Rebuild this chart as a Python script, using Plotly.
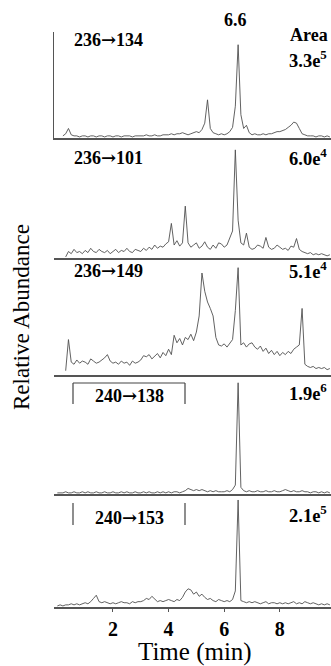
import plotly.graph_objects as go

# ---------------- data ----------------
time_min = [
    0.0, 0.1, 0.2, 0.3, 0.4, 0.5, 0.6, 0.7, 0.8, 0.9,
    1.0, 1.1, 1.2, 1.3, 1.4, 1.5, 1.6, 1.7, 1.8, 1.9,
    2.0, 2.1, 2.2, 2.3, 2.4, 2.5, 2.6, 2.7, 2.8, 2.9,
    3.0, 3.1, 3.2, 3.3, 3.4, 3.5, 3.6, 3.7, 3.8, 3.9,
    4.0, 4.1, 4.2, 4.3, 4.4, 4.5, 4.6, 4.7, 4.8, 4.9,
    5.0, 5.1, 5.2, 5.3, 5.4, 5.5, 5.6, 5.7, 5.8, 5.9,
    6.0, 6.1, 6.2, 6.3, 6.4, 6.5, 6.6, 6.7, 6.8, 6.9,
    7.0, 7.1, 7.2, 7.3, 7.4, 7.5, 7.6, 7.7, 7.8, 7.9,
    8.0, 8.1, 8.2, 8.3, 8.4, 8.5, 8.6, 8.7, 8.8, 8.9,
    9.0, 9.1, 9.2, 9.3, 9.4, 9.5, 9.6, 9.7, 9.8,
]

abund_236_134 = [
    None, None, 2, 4, 9, 3, 2, 2, 1, 2,
    2, 1, 2, 2, 1, 2, 2, 1, 2, 2,
    1, 2, 2, 1, 2, 2, 2, 1, 2, 2,
    2, 2, 3, 2, 2, 3, 2, 2, 3, 3,
    3, 4, 3, 4, 4, 5, 4, 3, 4, 5,
    6, 5, 8, 14, 36, 9, 5, 4, 3, 4,
    3, 4, 6, 10, 30, 88, 22, 9, 12, 5,
    3, 4, 3, 3, 4, 3, 4, 4, 5, 6,
    6, 7, 8, 10, 12, 15, 14, 9, 4, 3,
    2, 2, 2, 1, 2, 2, 1, 2, 1,
]

abund_236_101 = [
    None, None, None, 1, 6, 4, 8, 5, 6, 4,
    7, 5, 9, 6, 5, 8, 6, 5, 7, 4,
    6, 8, 5, 7, 6, 9, 6, 5, 8, 7,
    6, 9, 7, 10, 8, 12, 9, 11, 10, 13,
    15, 32, 12, 16, 11, 14, 48, 14, 10, 12,
    14, 9, 11, 15, 10, 8, 12, 9, 14, 13,
    10, 12, 18, 25, 100, 35, 14, 12, 23, 10,
    8, 9, 12, 11, 9, 19, 10, 8, 9, 12,
    10, 8, 9, 7, 11, 10, 18, 8, 6, 5,
    4, 5, 3, 4, 3, 4, 3, 2, 3,
]

abund_236_149 = [
    None, None, None, 4, 33, 12, 10, 14, 11, 13,
    12, 10, 15, 13, 11, 12, 14, 16, 19, 13,
    11, 12, 10, 13, 11, 12, 9, 13, 11, 12,
    14, 18, 17, 19, 15, 18, 20, 16, 21, 18,
    24, 19, 37, 30, 34, 28, 35, 33, 38, 32,
    40, 55, 95, 78, 68, 62, 55, 35, 28, 27,
    29, 26, 30, 33, 60, 100, 28, 30, 26, 29,
    30, 26, 24, 27, 22, 25, 20, 23, 19, 22,
    18, 21, 19, 22, 20, 24, 26, 28, 62, 10,
    8, 7, 8, 6, 7, 6, 7, 5, 6,
]

abund_240_138 = [
    1, 1, 1, 2, 1, 1, 2, 1, 1, 2,
    1, 2, 1, 1, 2, 1, 1, 2, 1, 1,
    2, 1, 1, 2, 1, 2, 1, 1, 2, 1,
    1, 2, 1, 2, 1, 1, 2, 1, 2, 1,
    2, 1, 2, 2, 1, 2, 3, 5, 4, 3,
    4, 3, 4, 3, 2, 3, 2, 3, 2, 2,
    2, 3, 2, 4, 8, 100, 6, 3, 2, 3,
    2, 2, 3, 2, 2, 3, 2, 2, 3, 2,
    2, 3, 4, 3, 2, 3, 2, 2, 3, 2,
    2, 1, 2, 2, 1, 2, 1, 2, 1,
]

abund_240_153 = [
    1, 2, 1, 2, 2, 3, 2, 3, 2, 3,
    4, 3, 5, 8, 11, 5, 4, 5, 4, 3,
    4, 3, 4, 5, 4, 4, 3, 5, 4, 5,
    5, 6, 8, 7, 10, 7, 5, 6, 5, 6,
    7, 6, 5, 7, 6, 9, 14, 17, 16, 12,
    14, 10, 12, 9, 7, 8, 6, 5, 7, 6,
    5, 6, 5, 7, 15, 100, 6, 5, 4, 5,
    4, 5, 4, 3, 4, 5, 3, 4, 4, 3,
    4, 3, 4, 3, 4, 5, 3, 4, 3, 5,
    4, 3, 4, 3, 2, 3, 2, 3, 2,
]

transition_parent = ["236", "236", "236", "240", "240"]
transition_product = ["134", "101", "149", "138", "153"]
areas = ["3.3e<sup>5</sup>", "6.0e<sup>4</sup>", "5.1e<sup>4</sup>", "1.9e<sup>6</sup>", "2.1e<sup>5</sup>"]
series = [abund_236_134, abund_236_101, abund_236_149, abund_240_138, abund_240_153]
tick_vals = [2, 4, 6, 8]
tick_text = ["2", "4", "6", "8"]
peak_label = "6.6"

# ---------------- layout geometry (pixels) ----------------
W, H = 331, 666
ML, MR, MT, MB = 54, 0, 0, 59
PW, PH = W - ML - MR, H - MT - MB

def xp(px):
    return (px - ML) / PW

def yp(py):
    return (MT + PH - py) / PH

panel_px = [(32, 138), (138, 258), (258, 375), (375, 494), (494, 607)]
y_tops = [100, 111, 109, 107, 105.6]
label_y = [40, 157, 270, 396, 517]
area_y = [59, 157, 270, 392, 514]

SERIF = "Liberation Serif, Times New Roman, serif"
ARROW = '<span style="font-family:DejaVu Serif">\u2192</span>'
x_range = [-0.12, 9.84]

fig = go.Figure()
layout = dict(
    width=W, height=H,
    margin=dict(l=ML, r=MR, t=MT, b=MB),
    paper_bgcolor="white", plot_bgcolor="white",
    showlegend=False,
    font=dict(family=SERIF, color="black"),
)

for i, ys in enumerate(series):
    n = i + 1
    xa = "x" if n == 1 else f"x{n}"
    ya = "y" if n == 1 else f"y{n}"
    fig.add_trace(go.Scatter(
        x=time_min, y=ys, xaxis=xa, yaxis=ya, mode="lines",
        line=dict(color="#505050", width=0.9), connectgaps=False,
        hoverinfo="skip",
    ))
    top, bot = panel_px[i]
    xkey = "xaxis" if n == 1 else f"xaxis{n}"
    ykey = "yaxis" if n == 1 else f"yaxis{n}"
    last = (n == 5)
    layout[xkey] = dict(
        range=x_range, domain=[0, 1], anchor=ya,
        showline=True, linecolor="#555", linewidth=1.5,
        showgrid=False, zeroline=False,
        tickvals=tick_vals if last else [],
        ticktext=["<b>%s</b>" % t for t in tick_text] if last else [],
        ticks="outside" if last else "", ticklen=3, tickcolor="#555",
        tickfont=dict(family=SERIF, size=20, color="black"),
        showticklabels=last,
    )
    if n > 1:
        layout[xkey]["matches"] = "x"
    layout[ykey] = dict(
        domain=[yp(bot), yp(top)], anchor=xa, range=[0, y_tops[i]],
        showgrid=False, zeroline=False, showticklabels=False, ticks="",
        showline=(n == 1), linecolor="#555", linewidth=1.2,
    )

annotations = []
def add_text(text, px, py, size, bold=True, xanchor="left", angle=0):
    annotations.append(dict(
        text=("<b>%s</b>" % text) if bold else text,
        x=xp(px), y=yp(py), xref="paper", yref="paper",
        xanchor=xanchor, yanchor="middle", showarrow=False, textangle=angle,
        font=dict(family=SERIF, size=size, color="black"),
    ))

add_text(peak_label, 235, 20, 18, xanchor="center")
add_text("Area", 288, 35, 18)
for i in range(5):
    label = transition_parent[i] + ARROW + transition_product[i]
    if i < 3:
        add_text(label, 72, label_y[i], 18)
    else:
        add_text(label, 129, label_y[i], 18, xanchor="center")
    add_text(areas[i], 287, area_y[i], 18.5)

add_text("Relative Abundance", 22, 317, 23, bold=False, xanchor="center", angle=-90)
add_text("Time (min)", 195, 652, 25, bold=False, xanchor="center")

shapes = []
def seg(x0, y0, x1, y1):
    shapes.append(dict(type="line", xref="paper", yref="paper",
                       x0=xp(x0), y0=yp(y0), x1=xp(x1), y1=yp(y1),
                       line=dict(color="#444", width=1.2)))

# box around 240->138 (top + sides), sides only for 240->153
seg(73, 383, 185, 383)
seg(73, 383, 73, 404)
seg(185, 383, 185, 404)
seg(73, 503, 73, 525)
seg(185, 503, 185, 525)

layout["annotations"] = annotations
layout["shapes"] = shapes
fig.update_layout(**layout)
fig.write_html("out.html", config={"displayModeBar": False},
               post_script="document.body.style.margin='0';")
